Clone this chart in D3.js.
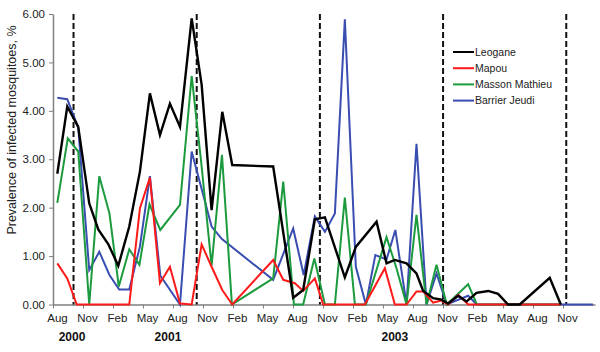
<!DOCTYPE html>
<html>
<head>
<meta charset="utf-8">
<script src="https://cdn.jsdelivr.net/npm/d3@7"></script>
<style>
  body { margin: 0; background: #fff; }
  svg { font-family: "Liberation Sans", Arial, sans-serif; }
</style>
</head>
<body>
<svg id="chart"></svg>
<script>
const WIDTH = 600;
const HEIGHT = 352;

// month offset from Aug 2000, prevalence %
const leogane = [
  [0.42, 2.70], [1.39, 4.09], [2.46, 3.67], [3.53, 2.09], [4.41, 1.55], [5.38, 1.25],
  [6.36, 0.80], [7.43, 1.61], [8.47, 2.75], [9.44, 4.36], [10.42, 3.50], [11.39, 4.15],
  [12.37, 3.67], [13.51, 5.91], [14.48, 4.54], [15.45, 1.95], [16.49, 3.98], [17.46, 2.88],
  [21.45, 2.85], [23.40, 0.14], [24.37, 0.30], [25.51, 1.76], [26.49, 1.80], [28.43, 0.56],
  [29.50, 1.19], [31.52, 1.71], [32.49, 0.85], [33.30, 0.92], [34.44, 0.85], [35.41, 0.64],
  [36.06, 0.28], [37.03, 0.13], [37.85, 0.10], [38.49, 0.02], [39.47, 0.18], [40.28, 0.06],
  [41.26, 0.24], [42.39, 0.28], [43.36, 0.22], [44.33, 0], [45.47, 0], [48.39, 0.55], [49.47, 0]
];
const mapou = [
  [0.42, 0.85], [1.39, 0.54], [2.31, 0], [7.43, 0], [8.47, 1.99], [9.44, 2.62],
  [10.42, 0.44], [11.39, 0.78], [12.37, 0.02], [13.51, 0], [14.48, 1.24], [15.45, 0.78],
  [16.49, 0.30], [17.46, 0], [21.45, 0.92], [22.43, 0.51], [23.56, 0.44], [24.37, 0.28],
  [25.51, 0.54], [26.32, 0], [30.38, 0], [32.33, 0.75], [33.30, 0], [34.44, 0],
  [35.41, 0.27], [36.06, 0.27], [37.03, 0.04], [37.85, 0.08], [38.49, 0], [39.47, 0.20],
  [40.45, 0], [49.47, 0]
];
const massonMathieu = [
  [0.42, 2.10], [1.44, 3.43], [2.46, 3.16], [3.53, 0], [4.51, 2.65], [5.50, 1.88],
  [6.41, 0.37], [7.43, 1.14], [8.42, 0.82], [9.40, 2.07], [10.45, 1.54], [12.37, 2.06],
  [13.51, 4.72], [14.48, 2.85], [15.45, 0.80], [16.46, 3.09], [17.43, 0], [21.45, 0.54],
  [22.43, 2.54], [23.47, 0], [24.37, 0], [25.46, 0.95], [26.49, 0], [27.46, 0],
  [28.43, 2.21], [29.41, 0], [30.48, 0], [32.49, 1.39], [33.46, 0.75], [34.44, 0],
  [35.41, 1.85], [36.39, 0], [37.36, 0.82], [38.36, 0], [40.44, 0.42], [41.29, 0], [49.47, 0]
];
const barrierJeudi = [
  [0.42, 4.27], [1.39, 4.24], [2.46, 3.65], [3.53, 0.71], [4.51, 1.09], [5.50, 0.61],
  [6.45, 0.31], [7.43, 0.31], [8.47, 1.20], [9.44, 2.65], [10.45, 0.60], [12.37, 0],
  [13.51, 3.16], [15.45, 1.61], [16.46, 1.35], [21.45, 0.51], [23.40, 1.57], [24.42, 0.61],
  [25.51, 1.82], [26.49, 1.50], [27.46, 1.88], [28.43, 5.89], [29.50, 0.78], [30.48, 0],
  [31.40, 1.02], [32.49, 0.93], [33.35, 1.54], [34.44, 0], [35.41, 3.32], [36.39, 0],
  [37.36, 0.64], [38.36, 0], [40.44, 0.18], [41.29, 0], [52.6, 0]
];

const seriesNames = ["Leogane", "Mapou", "Masson Mathieu", "Barrier Jeudi"];
const seriesData = [leogane, mapou, massonMathieu, barrierJeudi];
const seriesColors = ["#000000", "#ff1a1a", "#1c9a3e", "#3a4db0"];

const monthLabels = ["Aug", "Nov", "Feb", "May", "Aug", "Nov", "Feb", "May", "Aug",
  "Nov", "Feb", "May", "Aug", "Nov", "Feb", "May", "Aug", "Nov"];
const yearLabels = ["2000", "2001", "2003"];
const yearMonths = [1.85, 11.2, 33.3];
const octoberMarks = [2, 14, 26, 38, 50];
const yTicks = [0, 1, 2, 3, 4, 5, 6];

const svg = d3.select("#chart")
  .attr("width", WIDTH)
  .attr("height", HEIGHT);

const x = d3.scaleLinear().domain([0, 52.8]).range([53, 595]);
const y = d3.scaleLinear().domain([0, 6]).range([304.5, 14]);
// category positions of the month labels
const xLabel = d3.scalePoint().domain(d3.range(monthLabels.length)).range([57, 567]);

// y axis
const yAxis = svg.append("g")
  .attr("transform", `translate(${x(0)},0)`)
  .call(d3.axisLeft(y).tickValues(yTicks).tickFormat(d3.format(".2f")).tickSize(4).tickSizeOuter(0));
yAxis.select(".domain").attr("stroke", "#808080").attr("stroke-width", 1.5);
yAxis.selectAll(".tick line").attr("stroke", "#808080");
yAxis.selectAll("text").attr("font-size", 11.5).attr("fill", "#222").attr("dx", -1);

// x axis line
const xAxis = svg.append("g")
  .attr("transform", `translate(0,${y(0)})`)
  .call(d3.axisBottom(x).tickValues([]).tickSizeOuter(0));
xAxis.select(".domain").attr("stroke", "#808080").attr("stroke-width", 1.5);

// month labels
const xLabels = svg.append("g")
  .attr("transform", `translate(0,${y(0)})`)
  .call(d3.axisBottom(xLabel).tickFormat(i => monthLabels[i]).tickSize(4));
xLabels.select(".domain").remove();
xLabels.selectAll(".tick line").attr("stroke", "#808080").attr("x1", -4).attr("x2", -4);
xLabels.selectAll("text").attr("font-size", 11.5).attr("fill", "#222").attr("dy", "0.95em");

// year labels
svg.append("g")
  .selectAll("text")
  .data(yearLabels)
  .enter()
  .append("text")
  .attr("x", (d, i) => x(yearMonths[i]))
  .attr("y", 341)
  .attr("text-anchor", "middle")
  .attr("font-size", 12)
  .attr("font-weight", "bold")
  .attr("fill", "#111")
  .text(d => d);

// axis title
svg.append("text")
  .attr("transform", "translate(16,130) rotate(-90)")
  .attr("text-anchor", "middle")
  .attr("font-size", 12.5)
  .attr("fill", "#222")
  .text("Prevalence of infected mosquitoes, %");

// dashed year separators
svg.append("g")
  .selectAll("line")
  .data(octoberMarks)
  .enter()
  .append("line")
  .attr("x1", d => x(d))
  .attr("x2", d => x(d))
  .attr("y1", y(6))
  .attr("y2", y(0))
  .attr("stroke", "#111")
  .attr("stroke-width", 2)
  .attr("stroke-dasharray", "6,3");

// series lines, drawn bottom-up so black sits on top
const line = d3.line().x(d => x(d[0])).y(d => y(d[1]));
const drawOrder = [3, 2, 1, 0];
svg.append("g")
  .selectAll("path")
  .data(drawOrder)
  .enter()
  .append("path")
  .attr("d", i => line(seriesData[i]))
  .attr("fill", "none")
  .attr("stroke", i => seriesColors[i])
  .attr("stroke-width", i => i === 0 ? 2.4 : 2)
  .attr("stroke-linejoin", "miter");

// legend
const legend = svg.append("g").attr("transform", "translate(453,52)");
const legendRows = legend.selectAll("g")
  .data(seriesNames)
  .enter()
  .append("g")
  .attr("transform", (d, i) => `translate(0,${i * 16.2})`);
legendRows.append("line")
  .attr("x1", 0).attr("x2", 21)
  .attr("stroke", (d, i) => seriesColors[i])
  .attr("stroke-width", 2);
legendRows.append("text")
  .attr("x", 22)
  .attr("dy", "0.35em")
  .attr("font-size", 10.5)
  .attr("fill", "#222")
  .text(d => d);
</script>
</body>
</html>
